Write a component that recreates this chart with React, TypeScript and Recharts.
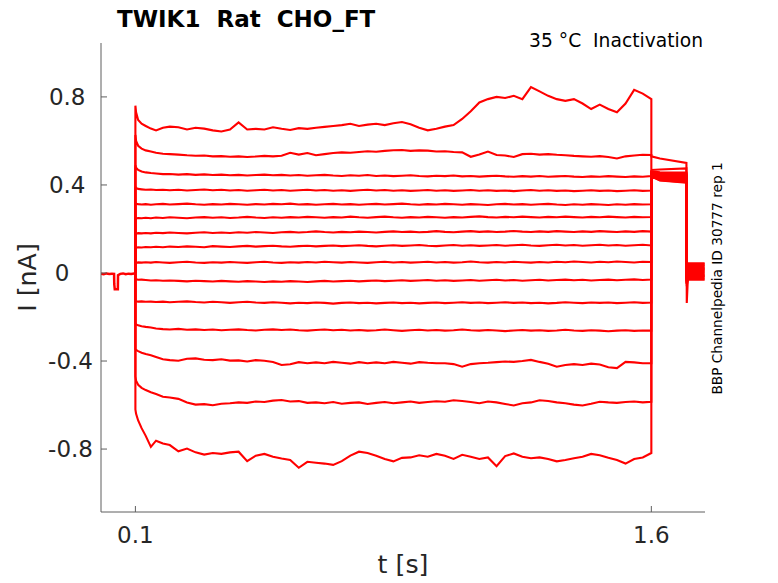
import React from 'react';
import { LineChart, Line, XAxis, YAxis } from 'recharts';

// time grid (s) used for the 0.1 - 1.6 s step of every trace
const stepTimes = [
  0.1, 0.102, 0.108, 0.118, 0.13, 0.145, 0.16, 0.18, 0.2, 0.225,
  0.25, 0.275, 0.3, 0.325, 0.35, 0.375, 0.4, 0.425, 0.45, 0.475,
  0.5, 0.525, 0.55, 0.575, 0.6, 0.625, 0.65, 0.675, 0.7, 0.725,
  0.75, 0.775, 0.8, 0.825, 0.85, 0.875, 0.9, 0.925, 0.95, 0.975,
  1.0, 1.025, 1.05, 1.075, 1.1, 1.125, 1.15, 1.175, 1.2, 1.225,
  1.25, 1.275, 1.3, 1.325, 1.35, 1.375, 1.4, 1.425, 1.45, 1.475,
  1.5, 1.525, 1.55, 1.575, 1.6,
];

// current (nA) per sweep, top to bottom
const trace01 = [
  0.76, 0.73, 0.695, 0.678, 0.668, 0.656, 0.648, 0.66, 0.665, 0.662,
  0.652, 0.66, 0.656, 0.648, 0.643, 0.652, 0.684, 0.652, 0.655, 0.652,
  0.662, 0.655, 0.65, 0.658, 0.655, 0.66, 0.664, 0.668, 0.672, 0.678,
  0.668, 0.674, 0.678, 0.672, 0.68, 0.686, 0.676, 0.66, 0.648, 0.655,
  0.665, 0.672, 0.7, 0.735, 0.775, 0.79, 0.8, 0.795, 0.805, 0.79,
  0.845, 0.825, 0.805, 0.79, 0.782, 0.79, 0.77, 0.745, 0.765, 0.745,
  0.73, 0.77, 0.832, 0.815, 0.79,
];
const trace02 = [
  0.627, 0.6, 0.578, 0.565, 0.557, 0.552, 0.546, 0.542, 0.54, 0.538,
  0.535, 0.533, 0.534, 0.53, 0.531, 0.528, 0.53, 0.527, 0.529, 0.532,
  0.53, 0.533, 0.546, 0.538, 0.545, 0.535, 0.54, 0.545, 0.548, 0.546,
  0.55, 0.553, 0.551, 0.555, 0.558, 0.559, 0.555, 0.557, 0.556, 0.552,
  0.553, 0.55, 0.548, 0.528, 0.538, 0.552, 0.536, 0.534, 0.527, 0.54,
  0.542, 0.538, 0.54, 0.537, 0.535, 0.532, 0.53, 0.528, 0.531, 0.527,
  0.52, 0.53, 0.534, 0.537, 0.536,
];
const trace03 = [
  0.49, 0.478, 0.468, 0.461, 0.457, 0.454, 0.452, 0.449, 0.45, 0.447,
  0.449, 0.446, 0.448, 0.445, 0.447, 0.444, 0.446, 0.443, 0.445, 0.447,
  0.444, 0.446, 0.443, 0.445, 0.442, 0.444, 0.446, 0.443, 0.441, 0.444,
  0.442, 0.445, 0.441, 0.443, 0.44, 0.442, 0.444, 0.441, 0.439, 0.442,
  0.44, 0.443, 0.439, 0.441, 0.438, 0.44, 0.442, 0.439, 0.437, 0.44,
  0.438, 0.441, 0.437, 0.439, 0.441, 0.438, 0.436, 0.439, 0.437, 0.44,
  0.438, 0.436, 0.439, 0.437, 0.44,
];
const trace04 = [
  0.392, 0.386, 0.382, 0.38, 0.378, 0.379, 0.377, 0.378, 0.376, 0.378,
  0.375, 0.377, 0.379, 0.376, 0.378, 0.375, 0.377, 0.374, 0.376, 0.378,
  0.375, 0.377, 0.374, 0.376, 0.378, 0.375, 0.377, 0.374, 0.376, 0.373,
  0.376, 0.378, 0.375, 0.377, 0.374, 0.376, 0.373, 0.375, 0.377, 0.374,
  0.376, 0.373, 0.375, 0.377, 0.374, 0.376, 0.373, 0.375, 0.372, 0.375,
  0.377, 0.374, 0.376, 0.373, 0.375, 0.372, 0.374, 0.376, 0.373, 0.375,
  0.372, 0.374, 0.376, 0.373, 0.375,
];
const trace05 = [
  0.318, 0.315, 0.313, 0.311, 0.313, 0.31, 0.312, 0.314, 0.311, 0.313,
  0.315, 0.312, 0.31, 0.313, 0.311, 0.314, 0.312, 0.31, 0.313, 0.311,
  0.314, 0.312, 0.315, 0.311, 0.313, 0.31, 0.312, 0.314, 0.311, 0.313,
  0.31, 0.312, 0.314, 0.311, 0.313, 0.315, 0.312, 0.31, 0.313, 0.311,
  0.314, 0.312, 0.31, 0.313, 0.311, 0.309, 0.312, 0.314, 0.311, 0.313,
  0.31, 0.312, 0.314, 0.311, 0.309, 0.312, 0.31, 0.313, 0.311, 0.309,
  0.312, 0.31, 0.313, 0.311, 0.312,
];
const trace06 = [
  0.246, 0.248, 0.25, 0.249, 0.251, 0.249, 0.252, 0.25, 0.253, 0.251,
  0.249, 0.252, 0.254, 0.251, 0.253, 0.25, 0.252, 0.255, 0.252, 0.25,
  0.253, 0.251, 0.254, 0.252, 0.255, 0.253, 0.251, 0.254, 0.252, 0.256,
  0.253, 0.251, 0.254, 0.256, 0.253, 0.251, 0.254, 0.252, 0.255, 0.253,
  0.251, 0.254, 0.252, 0.255, 0.257, 0.254, 0.252, 0.255, 0.253, 0.256,
  0.254, 0.252, 0.255, 0.253, 0.256, 0.254, 0.252, 0.255, 0.253, 0.256,
  0.254, 0.252, 0.255, 0.253, 0.254,
];
const trace07 = [
  0.176, 0.179, 0.181, 0.18, 0.182, 0.18, 0.183, 0.181, 0.184, 0.182,
  0.18, 0.183, 0.185, 0.182, 0.184, 0.182, 0.185, 0.183, 0.186, 0.184,
  0.182, 0.185, 0.187, 0.184, 0.186, 0.189, 0.186, 0.184, 0.187, 0.185,
  0.188, 0.186, 0.184, 0.187, 0.189, 0.186, 0.188, 0.185, 0.187, 0.19,
  0.187, 0.185, 0.188, 0.19, 0.187, 0.189, 0.186, 0.188, 0.191, 0.188,
  0.186, 0.189, 0.187, 0.19, 0.188, 0.186, 0.189, 0.187, 0.19, 0.188,
  0.186, 0.189, 0.187, 0.19, 0.188,
];
const trace08 = [
  0.112, 0.115, 0.117, 0.116, 0.118, 0.117, 0.119, 0.117, 0.12, 0.118,
  0.121, 0.119, 0.117, 0.122, 0.12, 0.118, 0.121, 0.123, 0.12, 0.122,
  0.124, 0.121, 0.119, 0.122, 0.124, 0.121, 0.123, 0.125, 0.122, 0.124,
  0.126, 0.123, 0.121, 0.124, 0.126, 0.123, 0.125, 0.127, 0.124, 0.122,
  0.125, 0.127, 0.124, 0.126, 0.123, 0.125, 0.127, 0.124, 0.126, 0.128,
  0.125, 0.123, 0.126, 0.128, 0.125, 0.127, 0.124, 0.126, 0.128, 0.125,
  0.127, 0.124, 0.126, 0.128, 0.125,
];
const trace09 = [
  0.044, 0.046, 0.048, 0.047, 0.049, 0.047, 0.05, 0.048, 0.046, 0.049,
  0.051, 0.048, 0.046, 0.049, 0.047, 0.05, 0.048, 0.046, 0.049, 0.051,
  0.048, 0.046, 0.049, 0.047, 0.05, 0.048, 0.051, 0.049, 0.047, 0.05,
  0.048, 0.046, 0.049, 0.051, 0.048, 0.05, 0.047, 0.049, 0.051, 0.048,
  0.05, 0.047, 0.049, 0.052, 0.049, 0.047, 0.05, 0.048, 0.051, 0.049,
  0.047, 0.05, 0.048, 0.051, 0.049, 0.052, 0.05, 0.048, 0.051, 0.049,
  0.052, 0.05, 0.048, 0.051, 0.05,
];
const trace10 = [
  -0.026, -0.029, -0.031, -0.03, -0.032, -0.034, -0.033, -0.035, -0.034, -0.036,
  -0.038, -0.035, -0.037, -0.039, -0.036, -0.038, -0.04, -0.037, -0.039, -0.041,
  -0.038, -0.04, -0.037, -0.039, -0.041, -0.038, -0.036, -0.039, -0.037, -0.035,
  -0.038, -0.036, -0.034, -0.037, -0.035, -0.033, -0.036, -0.034, -0.032, -0.035,
  -0.033, -0.036, -0.034, -0.032, -0.035, -0.033, -0.031, -0.034, -0.032, -0.035,
  -0.033, -0.031, -0.034, -0.032, -0.03, -0.033, -0.031, -0.034, -0.032, -0.03,
  -0.033, -0.031, -0.029, -0.032, -0.03,
];
const trace11 = [
  -0.126, -0.128, -0.13, -0.129, -0.131, -0.13, -0.132, -0.13, -0.133, -0.131,
  -0.129, -0.132, -0.134, -0.131, -0.133, -0.136, -0.133, -0.131, -0.134, -0.136,
  -0.133, -0.135, -0.138, -0.135, -0.137, -0.134, -0.136, -0.139, -0.136, -0.134,
  -0.137, -0.135, -0.138, -0.136, -0.134, -0.137, -0.135, -0.138, -0.136, -0.134,
  -0.137, -0.135, -0.133, -0.136, -0.134, -0.137, -0.135, -0.133, -0.136, -0.134,
  -0.137, -0.135, -0.138, -0.136, -0.133, -0.135, -0.137, -0.134, -0.136, -0.134,
  -0.137, -0.135, -0.133, -0.136, -0.134,
];
const trace12 = [
  -0.228, -0.234, -0.238, -0.242, -0.245, -0.248, -0.252, -0.255, -0.257, -0.254,
  -0.258, -0.256, -0.259, -0.257, -0.26, -0.258, -0.256, -0.259, -0.261, -0.258,
  -0.256, -0.259, -0.257, -0.26, -0.262, -0.259, -0.257, -0.26, -0.258, -0.261,
  -0.259, -0.262, -0.26, -0.257, -0.26, -0.263, -0.26, -0.258, -0.261, -0.259,
  -0.262, -0.26, -0.257, -0.26, -0.262, -0.259, -0.261, -0.264, -0.261, -0.259,
  -0.262, -0.26, -0.263, -0.261, -0.258, -0.261, -0.263, -0.26, -0.262, -0.265,
  -0.262, -0.26, -0.263, -0.261, -0.262,
];
const trace13 = [
  -0.345, -0.35, -0.355, -0.362, -0.368, -0.374, -0.382, -0.392, -0.396, -0.399,
  -0.39, -0.388, -0.394, -0.396, -0.392, -0.398, -0.397, -0.402, -0.396, -0.399,
  -0.404, -0.418, -0.415, -0.405, -0.41, -0.406, -0.41, -0.404, -0.408, -0.412,
  -0.405, -0.41, -0.406, -0.41, -0.404, -0.408, -0.412, -0.405, -0.408, -0.41,
  -0.41, -0.414, -0.426, -0.414, -0.41, -0.408, -0.405, -0.402, -0.404, -0.4,
  -0.395, -0.404, -0.412, -0.426, -0.418, -0.414, -0.418, -0.412, -0.416, -0.428,
  -0.432, -0.404, -0.406, -0.41, -0.41,
];
const trace14 = [
  -0.47, -0.49, -0.508, -0.522, -0.532, -0.542, -0.55, -0.562, -0.566, -0.572,
  -0.588, -0.598, -0.596, -0.601, -0.594, -0.592, -0.588, -0.59, -0.584, -0.586,
  -0.58, -0.577, -0.584, -0.582, -0.59, -0.588, -0.592, -0.586, -0.594, -0.59,
  -0.588, -0.595, -0.59, -0.586, -0.592, -0.588, -0.584, -0.59, -0.586, -0.583,
  -0.585, -0.578, -0.582, -0.586, -0.592, -0.584, -0.588, -0.595, -0.602, -0.592,
  -0.588, -0.578, -0.582, -0.588, -0.592, -0.598, -0.602, -0.594, -0.585, -0.588,
  -0.59, -0.586, -0.584, -0.588, -0.585,
];
const trace15 = [
  -0.62, -0.64, -0.67, -0.705, -0.74, -0.79, -0.762, -0.775, -0.782, -0.81,
  -0.798, -0.815, -0.825, -0.818, -0.822, -0.815, -0.812, -0.855, -0.83, -0.822,
  -0.835, -0.843, -0.85, -0.885, -0.858, -0.862, -0.866, -0.872, -0.855, -0.83,
  -0.812, -0.818, -0.83, -0.845, -0.856, -0.84, -0.838, -0.828, -0.835, -0.822,
  -0.83, -0.845, -0.826, -0.835, -0.845, -0.838, -0.878, -0.832, -0.82, -0.835,
  -0.842, -0.838, -0.845, -0.856, -0.85, -0.842, -0.835, -0.822, -0.828, -0.84,
  -0.85, -0.866, -0.845, -0.838, -0.818,
];

const sweeps = [
  trace01, trace02, trace03, trace04, trace05, trace06, trace07, trace08,
  trace09, trace10, trace11, trace12, trace13, trace14, trace15,
];

// after the step: tail (1.6 - 1.7 s) and return to holding
const tailTimes = [1.6, 1.625, 1.702];
const tailStart = [0.53, 0.468, 0.462, 0.46, 0.458, 0.456, 0.454, 0.452, 0.45, 0.448, 0.446, 0.444, 0.442, 0.44, 0.438];
const tailMid = [0.52, 0.47, 0.458, 0.454, 0.45, 0.446, 0.443, 0.44, 0.437, 0.434, 0.431, 0.428, 0.425, 0.422, 0.42];
const tailEnd = [0.5, 0.475, 0.456, 0.452, 0.448, 0.444, 0.44, 0.436, 0.432, 0.428, 0.424, 0.42, 0.416, 0.412, 0.41];
const settleTimes = [1.703, 1.706, 1.755];
const settleDip = [-0.136, -0.06, -0.05, -0.05, -0.045, -0.045, -0.04, -0.04, -0.035, -0.035, -0.03, -0.03, -0.025, -0.02, -0.02];
const settleLevel = [-0.03, -0.025, -0.019, -0.014, -0.009, -0.003, 0.002, 0.008, 0.013, 0.018, 0.023, 0.029, 0.034, 0.039, 0.044];

// holding period before the step
const preTimes = [0, 0.008, 0.016, 0.024, 0.032, 0.038, 0.0385, 0.04, 0.049, 0.0495, 0.056, 0.064, 0.072, 0.08, 0.088, 0.096, 0.1];
const preValues = [-0.003, -0.006, -0.002, -0.005, -0.003, -0.004, -0.05, -0.074, -0.074, -0.01, -0.004, -0.002, -0.006, -0.003, -0.005, -0.002, -0.004];

const xTicks = [0.1, 1.6];
const yTicks = [-0.8, -0.4, 0, 0.4, 0.8];

const FONT = 'DejaVu Sans';
const AXIS = '#5e5e5e';
const LABEL = '#262626';
const RED = '#ff0000';

const buildSweep = (vals: number[], i: number) => [
  { t: stepTimes[0], v: 0 },
  ...stepTimes.map((t, k) => ({ t, v: vals[k] })),
  { t: tailTimes[0], v: tailStart[i] },
  { t: tailTimes[1], v: tailMid[i] },
  { t: tailTimes[2], v: tailEnd[i] },
  { t: settleTimes[0], v: settleDip[i] },
  { t: settleTimes[1], v: settleLevel[i] },
  { t: settleTimes[2], v: settleLevel[i] },
];

const sweepData = sweeps.map(buildSweep);
const preData = preTimes.map((t, k) => ({ t, v: preValues[k] }));

const fmt = (v: number) => (v === 0 ? '0' : String(v));

// axis line sits at x=101 / y=512; ticks are drawn inward from there
const AXIS_X = 101;
const AXIS_Y = 512;

// the y labels in the original are not aligned on one edge
const yLabelGap: Record<string, number> = { '-0.8': 8, '-0.4': 8, '0': 31.5, '0.4': 15.5, '0.8': 15.5 };

const YTick = ({ y, payload }: any) => {
  const label = fmt(payload.value);
  return (
    <g>
      <line x1={AXIS_X} x2={AXIS_X + 6} y1={y} y2={y} stroke={AXIS} strokeWidth={1} />
      <text x={AXIS_X - (yLabelGap[label] ?? 8)} y={y + 8} textAnchor="end" fontSize={23} fontFamily={FONT} fill={LABEL}>
        {label}
      </text>
    </g>
  );
};

const XTick = ({ x, payload }: any) => (
  <g>
    <line x1={x} x2={x} y1={AXIS_Y} y2={AXIS_Y - 6} stroke={AXIS} strokeWidth={1} />
    <text x={x} y={AXIS_Y + 31} textAnchor="middle" fontSize={23} fontFamily={FONT} fill={LABEL}>
      {fmt(payload.value)}
    </text>
  </g>
);

export default function App() {
  return (
    <div style={{ position: 'absolute', left: 0, top: 0, width: 778, height: 583, background: '#fff' }}>
      <LineChart width={778} height={583} margin={{ top: 43, right: 73, bottom: 41, left: 41 }}>
        <XAxis
          type="number"
          dataKey="t"
          domain={[0, 1.756]}
          ticks={xTicks}
          allowDataOverflow
          height={30}
          tickLine={false}
          axisLine={{ stroke: AXIS, strokeWidth: 1 }}
          tick={<XTick />}
        />
        <YAxis
          type="number"
          dataKey="v"
          domain={[-1.086, 1.045]}
          ticks={yTicks}
          allowDataOverflow
          width={60}
          tickLine={false}
          axisLine={{ stroke: AXIS, strokeWidth: 1 }}
          tick={<YTick />}
        />
        <Line
          data={preData}
          dataKey="v"
          type="linear"
          stroke={RED}
          strokeWidth={2.5}
          dot={false}
          activeDot={false}
          isAnimationActive={false}
        />
        {sweepData.map((d, i) => (
          <Line
            key={`sweep-${i}`}
            data={d}
            dataKey="v"
            type="linear"
            stroke={RED}
            strokeWidth={2.1}
            dot={false}
            activeDot={false}
            isAnimationActive={false}
          />
        ))}
      </LineChart>
      <svg width={778} height={583} style={{ position: 'absolute', left: 0, top: 0, pointerEvents: 'none' }}>
        <text x={117} y={26.5} fontSize={23} fontWeight="bold" fontFamily={FONT} fill="#000" style={{ whiteSpace: 'pre' }}>
          TWIK1  Rat  CHO_FT
        </text>
        <text x={703} y={47} textAnchor="end" fontSize={18.7} fontFamily={FONT} fill="#000" style={{ whiteSpace: 'pre' }}>
          35 °C  Inactivation
        </text>
        <text transform="translate(721.5, 278.5) rotate(-90)" textAnchor="middle" fontSize={13.7} fontFamily={FONT} fill="#000">
          BBP Channelpedia ID 30777 rep 1
        </text>
        <text transform="translate(36, 277.5) rotate(-90)" textAnchor="middle" fontSize={25.3} fontFamily={FONT} fill={LABEL}>
          I [nA]
        </text>
        <text x={403} y={573.4} textAnchor="middle" fontSize={25.3} fontFamily={FONT} fill={LABEL}>
          t [s]
        </text>
      </svg>
    </div>
  );
}
